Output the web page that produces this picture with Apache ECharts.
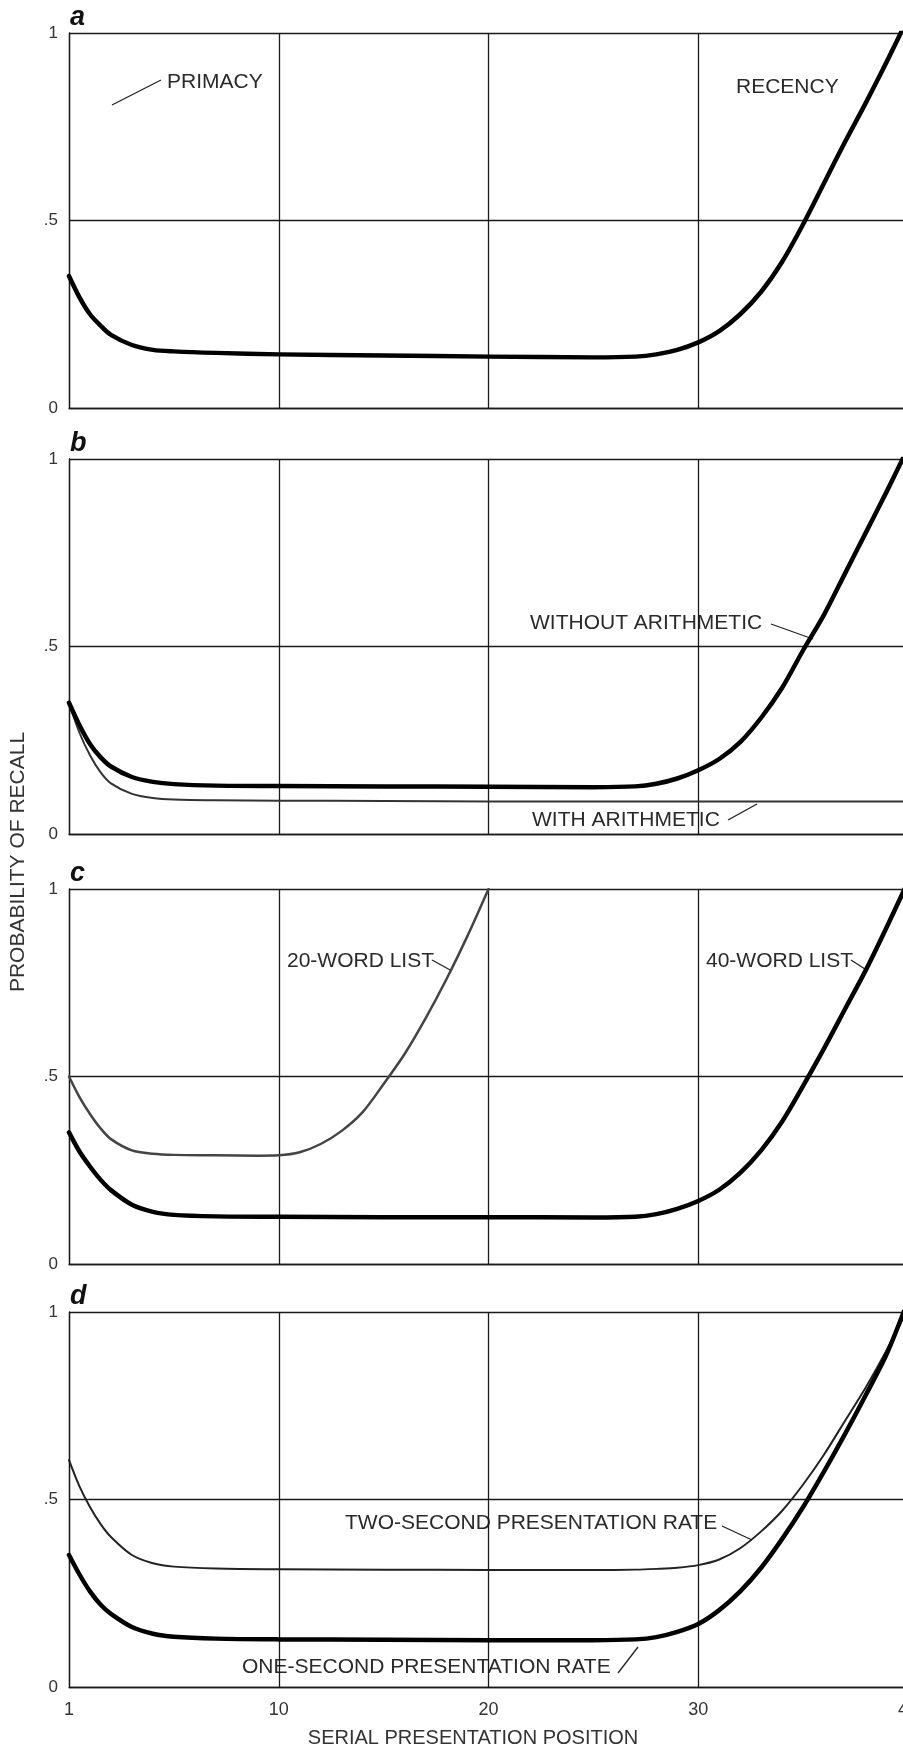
<!DOCTYPE html>
<html><head><meta charset="utf-8">
<script src="https://cdn.jsdelivr.net/npm/echarts@6/dist/echarts.min.js"></script>
<style>html,body{margin:0;padding:0;background:#fff}#c{width:903px;height:1751px}</style>
</head><body><div id="c"></div>
<script>
// ---- data ----
const positions = [0,0.5,1,1.5,2,3,4,5,7,10,15,20,25,27,28,29,30,31,32,33,34,35,36,37,38,39,40];
const recallA = [0.352,0.295,0.25,0.22,0.195,0.168,0.155,0.151,0.147,0.143,0.140,0.137,0.135,0.137,0.143,0.155,0.175,0.205,0.25,0.31,0.39,0.49,0.60,0.71,0.815,0.925,1.04];
const recallBWithout = [0.35,0.29,0.24,0.205,0.18,0.152,0.139,0.133,0.129,0.128,0.127,0.126,0.125,0.127,0.134,0.148,0.17,0.2,0.245,0.31,0.39,0.49,0.585,0.695,0.805,0.915,1.03];
const recallBWith = [0.35,0.27,0.21,0.165,0.135,0.107,0.096,0.092,0.09,0.089,0.088,0.087,0.087,0.087,0.087,0.087,0.087,0.087,0.087,0.087,0.087,0.087,0.087,0.087,0.087,0.087,0.087];
const recallC40 = [0.351,0.30,0.26,0.225,0.197,0.158,0.139,0.131,0.127,0.126,0.125,0.125,0.124,0.126,0.133,0.147,0.168,0.198,0.243,0.303,0.38,0.475,0.575,0.68,0.785,0.9,1.02];
const positions20 = [0,0.5,1,1.5,2,3,4,5,7,9,10,11,12,13,14,15,16,17,18,19,20];
const recallC20 = [0.5,0.445,0.4,0.362,0.333,0.303,0.294,0.291,0.29,0.289,0.29,0.298,0.32,0.355,0.405,0.48,0.56,0.655,0.76,0.875,1.0];
const recallDOne = [0.352,0.30,0.255,0.22,0.195,0.16,0.142,0.134,0.129,0.127,0.126,0.125,0.125,0.127,0.133,0.147,0.168,0.205,0.255,0.318,0.395,0.48,0.575,0.675,0.78,0.89,1.03];
const recallDTwo = [0.605,0.535,0.48,0.435,0.4,0.352,0.33,0.321,0.316,0.314,0.313,0.312,0.312,0.313,0.315,0.318,0.325,0.34,0.37,0.415,0.47,0.54,0.62,0.71,0.8,0.9,1.01];
const xTicks = [0,10,20,30,40];
const xTickText = ['1','10','20','30','40'];
const yTicks = [0,0.5,1];
const yTickText = ['0','.5','1'];
const panelLetters = ['a','b','c','d'];

// ---- layout ----
const chart = echarts.init(document.getElementById('c'), null, {renderer:'canvas'});
const FONT = '"Liberation Sans", Arial, sans-serif';
const panelTops = [33, 459, 889, 1312];
const panelH = 375;
const lineCol = '#1a1a1a';
const gl = {color: lineCol, width: 1.3};

const grid = panelTops.map(t => ({left: 69, right: -5, top: t, height: panelH, containLabel: false, outerBoundsMode: 'none'}));
const xAxis = panelTops.map((t, i) => ({
  type: 'value', gridIndex: i, min: 0, max: 40, interval: 10,
  axisLine: {show: true, lineStyle: gl}, axisTick: {show: false},
  splitLine: {show: true, lineStyle: gl},
  axisLabel: {show: i === 3, margin: 14, fontSize: 18, color: '#333', fontFamily: FONT,
    formatter: v => { const k = xTicks.indexOf(v); return k < 0 ? '' : xTickText[k]; }}
}));
const yAxis = panelTops.map((t, i) => ({
  type: 'value', gridIndex: i, min: 0, max: 1, interval: 0.5,
  axisLine: {show: true, lineStyle: gl}, axisTick: {show: false},
  splitLine: {show: true, lineStyle: gl},
  axisLabel: {margin: 11, fontSize: 17, color: '#333', fontFamily: FONT,
    formatter: v => { const k = yTicks.indexOf(v); return k < 0 ? '' : yTickText[k]; }}
}));

function curve(i, xs, ys, width, color, z) {
  return {type: 'line', xAxisIndex: i, yAxisIndex: i, data: xs.map((x, k) => [x, ys[k]]),
    smooth: 0.3, showSymbol: false, clip: true, z: z || 3, silent: true,
    lineStyle: {width: width, color: color, cap: 'round', join: 'round'}};
}
const series = [
  curve(0, positions, recallA, 4.5, '#000'),
  curve(1, positions, recallBWith, 2, '#333'),
  curve(1, positions, recallBWithout, 4.5, '#000', 4),
  curve(2, positions20, recallC20, 2.5, '#444'),
  curve(2, positions, recallC40, 4.5, '#000'),
  curve(3, positions, recallDTwo, 2, '#222'),
  curve(3, positions, recallDOne, 4.5, '#000')
];

const txtFont = '21px ' + FONT;
function label(text, x, y) {
  return {type: 'text', x: x, y: y, silent: true,
    style: {text: text, font: txtFont, fill: '#2a2a2a', align: 'left', verticalAlign: 'middle'}};
}
function leader(x1, y1, x2, y2) {
  return {type: 'line', silent: true, shape: {x1, y1, x2, y2}, style: {stroke: '#222', lineWidth: 1.3}};
}
const graphic = [];
panelTops.forEach((t, i) => graphic.push({type: 'text', x: 70, y: t - 15, silent: true,
  style: {text: panelLetters[i], font: 'italic bold 27px ' + FONT, fill: '#111', align: 'left', verticalAlign: 'middle'}}));
graphic.push(
  label('PRIMACY', 167, 82), leader(112, 105, 161, 80),
  label('RECENCY', 736, 87),
  label('WITHOUT ARITHMETIC', 530, 623), leader(771, 624, 813, 639),
  label('WITH ARITHMETIC', 532, 820), leader(728, 820, 757, 804),
  label('20-WORD LIST', 287, 961), leader(432, 960, 452, 971),
  label('40-WORD LIST', 706, 961), leader(851, 960, 868, 971),
  label('TWO-SECOND PRESENTATION RATE', 345, 1523), leader(722, 1526, 752, 1540),
  label('ONE-SECOND PRESENTATION RATE', 242, 1667), leader(618, 1673, 638, 1647),
  {type: 'text', x: 18, y: 862, rotation: Math.PI / 2, silent: true,
    style: {text: 'PROBABILITY OF RECALL', font: '21px ' + FONT, fill: '#333', align: 'center', verticalAlign: 'middle'}},
  {type: 'text', x: 473, y: 1738, silent: true,
    style: {text: 'SERIAL PRESENTATION POSITION', font: '20px ' + FONT, fill: '#333', align: 'center', verticalAlign: 'middle'}}
);

chart.setOption({animation: false, backgroundColor: '#fff', grid, xAxis, yAxis, series, graphic});
</script></body></html>
